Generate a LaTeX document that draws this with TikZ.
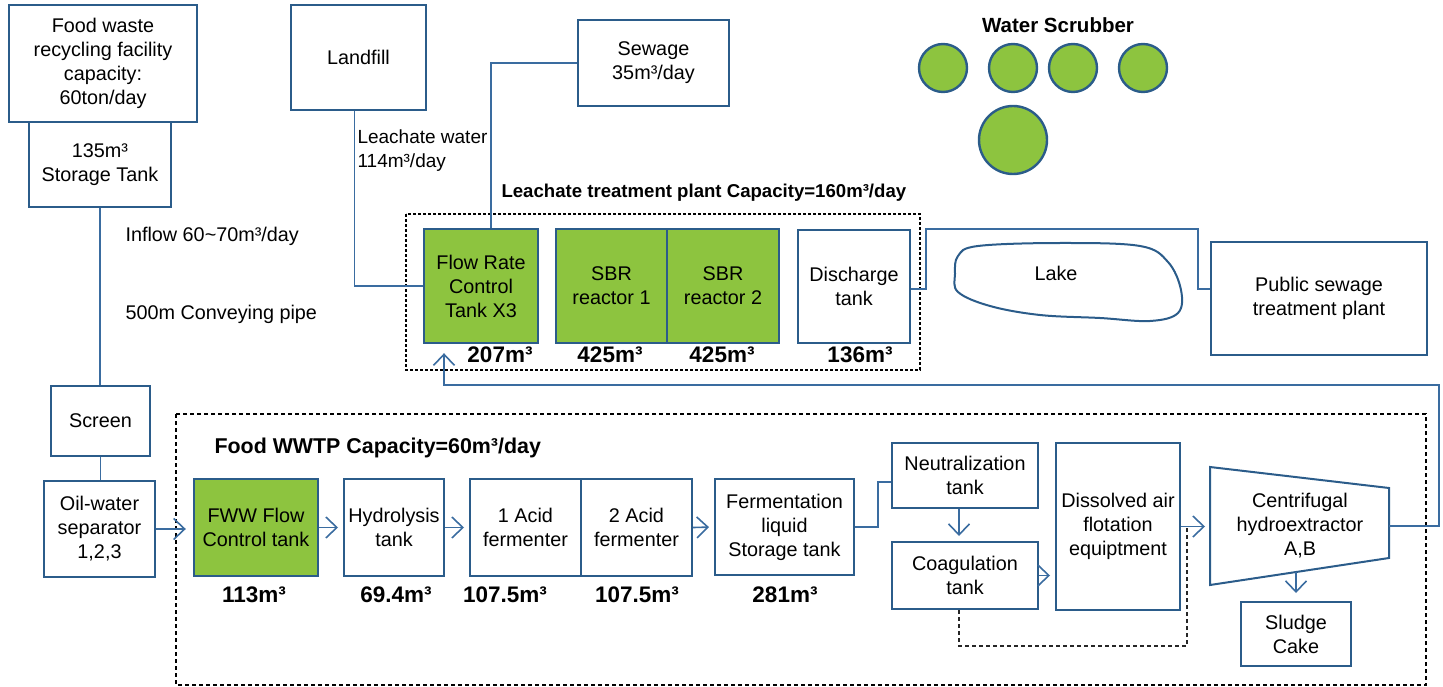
\documentclass[tikz,border=0pt]{standalone}
\usepackage{fontspec}
\setmainfont{Liberation Sans}
\usepackage{tikz}
\usetikzlibrary{arrows.meta,positioning}
\definecolor{pipeblue}{HTML}{3A6CA0}
\definecolor{boxblue}{HTML}{2B5C8A}
\definecolor{tankgreen}{HTML}{8DC43F}

\begin{document}
\begin{tikzpicture}[
    x=1pt, y=-1pt,
    font=\fontsize{19.8}{24}\selectfont,
    box/.style={rectangle, draw=boxblue, line width=2pt, align=center, inner sep=0pt},
    tank/.style={box, fill=tankgreen, line width=2.4pt},
    vol/.style={font=\fontsize{22.5}{24}\selectfont\bfseries},
    title/.style={font=\fontsize{18.6}{20}\selectfont\bfseries, anchor=west},
    pipe/.style={draw=pipeblue, line width=1.6pt},
    arrow/.style={pipe, -{Straight Barb[length=11pt,width=21pt]}, shorten >=5pt},
    zone/.style={draw=black, line width=2.4pt, dash pattern=on 4pt off 3pt},
    dotline/.style={draw=black!85, line width=2.4pt, dash pattern=on 4pt off 3pt},
    scrubber/.style={circle, draw=boxblue, fill=tankgreen, line width=2.4pt, inner sep=0pt}
]
\useasboundingbox (0,0) rectangle (1443,687);

% sources
\node[box, minimum width=188pt, minimum height=117pt] (food) at (103,63.5) {Food waste\\recycling facility\\capacity:\\60ton/day};
\node[box, minimum width=142pt, minimum height=85pt] (storage) at (100,164.5) {135m³\\Storage Tank};
\node[box, minimum width=135pt, minimum height=105pt] (landfill) at (358.5,57.5) {Landfill};
\node[box, minimum width=151pt, minimum height=86pt] (sewage) at (653.5,63) {Sewage\\35m³/day};

\node[anchor=west] (inflow) at (122,236) {Inflow 60\textasciitilde70m³/day};
\node[anchor=west] (pipelen) at (122,314) {500m Conveying pipe};
\node[anchor=west, align=left, font=\fontsize{19}{24}\selectfont] (leachq) at (354,151) {Leachate water\\114m³/day};

% water scrubber
\node[font=\fontsize{20.5}{22}\selectfont\bfseries] (scrubtitle) at (1058,25) {Water Scrubber};
\foreach \cx [count=\i] in {943,1013,1073,1143}
    \node[scrubber, minimum size=48pt] (scrub\i) at (\cx,68) {};
\node[scrubber, minimum size=68pt] (scrub5) at (1013,140) {};

% leachate treatment plant
\draw[zone, line width=1.8pt, dash pattern=on 3pt off 2pt] (406,214) rectangle (920,370);
\node[title] (lttitle) at (498,193) {Leachate treatment plant Capacity=160m³/day};
\node[tank, minimum width=114pt, minimum height=114pt] (flowtank) at (481,286) {Flow Rate\\Control\\Tank X3};
\node[tank, minimum width=111pt, minimum height=114pt] (sbr1) at (611.5,286) {SBR\\reactor 1};
\node[tank, minimum width=112pt, minimum height=114pt, right=-2.4pt of sbr1] (sbr2) {SBR\\reactor 2};
\node[box, minimum width=112pt, minimum height=113pt] (discharge) at (854,286.5) {Discharge\\tank};
\node[vol] (v207) at (500,355) {207m³};
\node[vol] (v425a) at (610,355) {425m³};
\node[vol] (v425b) at (722,355) {425m³};
\node[vol] (v136) at (860,355) {136m³};

% lake and public plant
\draw[boxblue, line width=2pt] plot[smooth cycle, tension=0.6] coordinates {
    (958,256) (978,246) (1060,243) (1140,246) (1168,262) (1181,290)
    (1178,313) (1150,321) (1100,318) (1040,315) (990,306) (958,292) (955,274)};
\node (lake) at (1056,273) {Lake};
\node[box, minimum width=216pt, minimum height=113pt] (public) at (1319,298.5) {Public sewage\\treatment plant};

% pretreatment
\node[box, minimum width=99pt, minimum height=70pt] (screen) at (100.5,421) {Screen};
\node[box, minimum width=111pt, minimum height=96pt] (oilsep) at (99.5,529) {Oil-water\\separator\\1,2,3};

% food WWTP
\draw[zone] (176,414) rectangle (1426,685);
\node[title, font=\fontsize{21.4}{24}\selectfont\bfseries] (wwtptitle) at (211,448) {Food WWTP Capacity=60m³/day};
\node[tank, minimum width=124pt, minimum height=97pt] (fww) at (256,527.5) {FWW Flow\\Control tank};
\node[box, minimum width=100pt, minimum height=97pt] (hydro) at (394,527.5) {Hydrolysis\\tank};
\node[box, minimum width=111pt, minimum height=97pt] (acid1) at (525.5,527.5) {1 Acid\\fermenter};
\node[box, minimum width=111pt, minimum height=97pt, right=-2pt of acid1] (acid2) {2 Acid\\fermenter};
\node[box, minimum width=139pt, minimum height=96pt] (ferm) at (784.5,527) {Fermentation\\liquid\\Storage tank};
\node[box, minimum width=146pt, minimum height=65pt] (neutral) at (965,475.5) {Neutralization\\tank};
\node[box, minimum width=146pt, minimum height=67pt] (coag) at (965,575.5) {Coagulation\\tank};
\node[box, minimum width=124pt, minimum height=167pt] (daf) at (1118,526.5) {Dissolved air\\flotation\\equiptment};
\node[vol] (v113) at (254,595) {113m³};
\node[vol] (v694) at (396,595) {69.4m³};
\node[vol] (v1075a) at (505,595) {107.5m³};
\node[vol] (v1075b) at (637,595) {107.5m³};
\node[vol] (v281) at (785,595) {281m³};

% centrifuge
\coordinate (cf-nw) at (1210,467);
\coordinate (cf-ne) at (1389,488);
\coordinate (cf-se) at (1389,558);
\coordinate (cf-sw) at (1210,585);
\coordinate (cf-w) at (1210,526.5);
\coordinate (cf-e) at (1389,526);
\coordinate (cf-s) at (1296,572);
\draw[boxblue, line width=2pt] (cf-nw) -- (cf-ne) -- (cf-se) -- (cf-sw) -- cycle;
\node[align=center] (centri) at (1300,526) {Centrifugal\\hydroextractor\\A,B};
\node[box, minimum width=110pt, minimum height=64pt] (sludge) at (1296,634) {Sludge\\Cake};

\coordinate (dotcorner) at (1187,646);
\coordinate (retcorner) at (1439,385);
\coordinate (outfall) at (1198,229);

% connectors
\draw[pipe] (storage.south) -- (storage.south |- screen.north);
\draw[pipe] (screen.south) -- (screen.south |- oilsep.north);
\draw[pipe] ([xshift=-4pt]landfill.south) |- (flowtank.west);
\draw[pipe] (sewage.west) -| ([xshift=10pt]flowtank.north);
\draw[pipe] ([yshift=-2.5pt]discharge.east) -- ++(15,0) |- (outfall) |- ([yshift=9.5pt]public.west);

\draw[arrow, shorten >=7pt] (oilsep.east) -- (oilsep.east -| fww.west);
\draw[arrow] (fww.east) -- (hydro.west);
\draw[arrow] (hydro.east) -- (acid1.west);
\draw[arrow] (acid2.east) -- (ferm.west);
\draw[pipe] (ferm.east) -- ++(23,0) |- ([yshift=-6.5pt]neutral.west);
\draw[arrow] ([xshift=-6pt]neutral.south) -- ([xshift=-6pt]coag.north);
\draw[arrow] (coag.east) -- (coag.east -| daf.west);
\draw[arrow] (daf.east) -- (cf-w);
\draw[arrow, shorten >=8pt] (cf-s) -- (sludge.north);
\draw[dotline] ([xshift=-6pt]coag.south) |- (dotcorner) -- (dotcorner |- daf.east);
\draw[arrow, shorten >=9pt] (cf-e) -| (retcorner) -| ([xshift=-37pt]flowtank.south);
\end{tikzpicture}
\end{document}
